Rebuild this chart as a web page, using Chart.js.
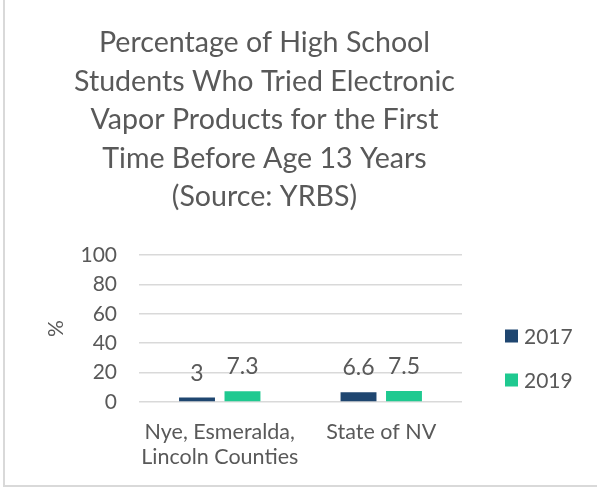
<!DOCTYPE html>
<html>
<head>
<meta charset="utf-8">
<script src="https://cdn.jsdelivr.net/npm/chart.js@4/dist/chart.umd.min.js"></script>
<style>
  html, body { margin: 0; padding: 0; background: #fff; }
  #wrap {
    position: absolute; left: 3px; top: 0; width: 592px; height: 485px;
    border-left: 2px solid #d9d9d9; border-bottom: 2px solid #d9d9d9; background: #fff;
  }
</style>
</head>
<body>
<div id="wrap"><canvas id="chart"></canvas></div>
<script>
// ========== DATA ==========
const categories = [["Nye, Esmeralda,", "Lincoln Counties"], "State of NV"];
const seriesNames = ["2017", "2019"];
const values2017 = [3, 6.6];
const values2019 = [7.3, 7.5];
const yTicks = [0, 20, 40, 60, 80, 100];

const titleLines = [
  "Percentage of High School",
  "Students Who Tried Electronic",
  "Vapor Products for the First",
  "Time Before Age 13 Years",
  "(Source: YRBS)",
];

const TEXT = "#595959";
const FONT = "Lato, 'Open Sans', sans-serif";
const COLORS = ["#1f4670", "#1fc990"];

// value labels above each bar
const valueLabels = {
  id: "valueLabels",
  afterDatasetsDraw(chart) {
    const ctx = chart.ctx;
    ctx.save();
    ctx.fillStyle = TEXT;
    ctx.font = "23px " + FONT;
    ctx.textAlign = "center";
    ctx.textBaseline = "alphabetic";
    chart.data.datasets.forEach((ds, i) => {
      chart.getDatasetMeta(i).data.forEach((bar, j) => {
        ctx.fillText(String(ds.data[j]), bar.x, bar.y - 17);
      });
    });
    ctx.restore();
  },
};

// title is centred a bit left of the canvas centre in the original
const shiftTitle = {
  id: "shiftTitle",
  afterLayout(chart) {
    const t = chart.titleBlock;
    if (!t) return;
    t.left = 0;
    t.right = 519;
    t.width = 519;
  },
};

// legend on the right, vertically centred on the plot
const sideLegend = {
  id: "sideLegend",
  afterDraw(chart) {
    const ctx = chart.ctx;
    const rows = [336, 380];
    ctx.save();
    ctx.font = "21px " + FONT;
    ctx.textBaseline = "middle";
    ctx.textAlign = "left";
    chart.data.datasets.forEach((ds, i) => {
      const y = rows[i];
      ctx.fillStyle = ds.backgroundColor;
      ctx.fillRect(500, y - 6.5, 13, 13);
      ctx.fillStyle = TEXT;
      ctx.fillText(ds.label, 519, y + 1);
    });
    ctx.restore();
  },
};

const ctx = document.getElementById("chart").getContext("2d");
new Chart(ctx, {
  type: "bar",
  data: {
    labels: categories,
    datasets: [
      { label: seriesNames[0], data: values2017, backgroundColor: COLORS[0] },
      { label: seriesNames[1], data: values2019, backgroundColor: COLORS[1] },
    ],
  },
  options: {
    responsive: true,
    maintainAspectRatio: false,
    animation: false,
    categoryPercentage: 0.563,
    barPercentage: 0.79,
    layout: { padding: { left: 20, right: 135, top: 0, bottom: 3 } },
    plugins: {
      title: {
        display: true,
        text: titleLines,
        color: TEXT,
        font: { family: FONT, size: 28.6, weight: "normal", lineHeight: "38.5px" },
        padding: { top: 23.75, bottom: 38.75 },
      },
      legend: { display: false },
      tooltip: { enabled: false },
    },
    scales: {
      x: {
        grid: { display: false },
        border: { display: false },
        ticks: {
          color: TEXT,
          font: { family: FONT, size: 21.5, lineHeight: 1.17 },
          padding: 9,
          minRotation: 0,
          maxRotation: 0,
          autoSkip: false,
        },
        afterFit: (scale) => { scale.height = 80; },
      },
      y: {
        min: 0,
        max: 100,
        afterBuildTicks: (axis) => { axis.ticks = yTicks.map((v) => ({ value: v })); },
        grid: { color: "#d9d9d9", lineWidth: 1.5, drawTicks: false },
        border: { display: false },
        ticks: { color: TEXT, font: { family: FONT, size: 21 }, padding: 22 },
        title: {
          display: true,
          text: "%",
          color: TEXT,
          font: { family: FONT, size: 21 },
          padding: { top: 19, bottom: 0 },
        },
        afterFit: (scale) => { scale.width = 114; },
      },
    },
  },
  plugins: [valueLabels, shiftTitle, sideLegend],
});
</script>
</body>
</html>
